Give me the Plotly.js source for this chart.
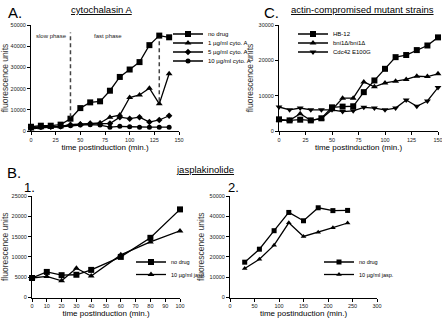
<!DOCTYPE html>
<html>
<head>
<meta charset="utf-8">
<script src="https://cdn.plot.ly/plotly-3.0.1.min.js"></script>
<style>html,body{margin:0;padding:0;background:#fff;}#chart{width:442px;height:318px;}</style>
</head>
<body>
<div id="chart"></div>
<script>
// ---- Panel A: cytochalasin A ----
const timeA = [0,10,20,30,40,50,60,70,80,90,100,110,120,130,140];
const noDrugA = [2000,2500,2500,3000,5800,10800,13500,14000,19000,25500,29000,32500,40500,45000,44200];
const cyto1 = [1000,1500,1800,2000,3000,3200,3500,3800,6500,7500,15800,17000,20200,12800,27000];
const cyto5 = [1500,2000,2000,2200,3000,3200,3500,3500,3500,6500,5800,6500,4200,5200,7200];
const cyto10 = [1500,1800,2000,2000,2500,2800,3000,2800,1800,2200,2000,1800,1800,1800,1800];
const namesA = ["no drug","1 µg/ml cyto. A","5 µg/ml cyto. A","10 µg/ml cyto. A"];
const phaseBounds = [40,130];

// ---- Panel C: actin-compromised mutant strains ----
const timeC = [0,10,20,30,40,50,60,70,80,90,100,110,120,130,140,150];
const hb12 = [3300,3000,3200,3000,3600,6700,6900,7000,11000,14300,17600,20900,21500,22900,24200,26500];
const bni1 = [3000,3000,4900,3000,3500,6000,9300,9300,13900,12500,13600,14100,14600,15500,15400,16200];
const cdc42 = [6800,6000,6500,6000,6000,6000,5500,5700,6700,6500,6000,6500,8800,7000,8500,12300];
const namesC = ["HB-12","bni1Δ/bni1Δ","Cdc42 E100G"];

// ---- Panel B1 / B2: jasplakinolide ----
const timeB1 = [0,10,20,30,40,60,80,100];
const noDrugB1 = [4800,6300,5500,5600,6800,10000,14700,21700];
const jaspB1 = [4800,5200,4100,7200,5300,10500,13700,16400];
const timeB2 = [30,60,90,120,150,180,210,240];
const noDrugB2 = [17400,23800,32900,41900,37800,44200,42800,42900];
const jaspB2 = [14300,18800,25800,36800,30100,32100,34400,36700];
const namesB = ["no drug","10 µg/ml jasp."];

// ---- tick labels ----
const xTicksAC = [0,25,50,75,100,125,150];
const xTicksB1 = [0,10,20,30,40,50,60,70,80,90,100];
const xTicksB2 = [0,50,100,150,200,250,300];
const yTicks50k = [0,10000,20000,30000,40000,50000];
const yTicks30k = [0,10000,20000,30000];
const yTicks25k = [0,5000,10000,15000,20000,25000];

const W = 442, H = 318;
const FONT = "Liberation Sans, Arial, Helvetica, sans-serif";
const px = v => v / W;
const py = v => 1 - v / H;

function tr(x, y, name, sym, size, xa, ya, legend) {
  return {
    x: x, y: y, name: name, type: 'scatter', mode: 'lines+markers',
    xaxis: xa, yaxis: ya, legend: legend, cliponaxis: false,
    line: {color: '#000', width: 1.3},
    marker: {symbol: sym, size: size, color: '#000'}
  };
}

const data = [
  tr(timeA, noDrugA, namesA[0], 'square', 6, 'x', 'y', 'legend'),
  tr(timeA, cyto1, namesA[1], 'triangle-up', 6, 'x', 'y', 'legend2'),
  tr(timeA, cyto5, namesA[2], 'diamond', 5, 'x', 'y', 'legend3'),
  tr(timeA, cyto10, namesA[3], 'circle', 5, 'x', 'y', 'legend4'),
  tr(timeC, hb12, namesC[0], 'square', 6, 'x2', 'y2', 'legend5'),
  tr(timeC, bni1, namesC[1], 'triangle-up', 6, 'x2', 'y2', 'legend6'),
  tr(timeC, cdc42, namesC[2], 'triangle-down', 6, 'x2', 'y2', 'legend7'),
  tr(timeB1, noDrugB1, namesB[0], 'square', 6, 'x3', 'y3', 'legend8'),
  tr(timeB1, jaspB1, namesB[1], 'triangle-up', 6, 'x3', 'y3', 'legend9'),
  tr(timeB2, noDrugB2, namesB[0], 'square', 5, 'x4', 'y4', 'legend10'),
  tr(timeB2, jaspB2, namesB[1], 'triangle-up', 5, 'x4', 'y4', 'legend11')
];

const tickFont = {family: FONT, size: 5.5, color: '#222'};
function xax(domain, range, ticks, anchor) {
  return {
    domain: domain, range: range, tickmode: 'array', tickvals: ticks, ticktext: ticks.map(String), anchor: anchor,
    showgrid: false, zeroline: false, showline: true, linecolor: '#000', linewidth: 1,
    ticks: 'outside', ticklen: 3, tickwidth: 1, tickcolor: '#000', tickfont: tickFont,
    ticklabeloverflow: 'allow',
    title: {text: 'time postinduction (min.)', font: {family: FONT, size: 8, color: '#000'}, standoff: 2},
    automargin: false, fixedrange: true
  };
}
function yax(domain, range, ticks, anchor) {
  return {
    domain: domain, range: range, tickmode: 'array', tickvals: ticks, ticktext: ticks.map(String), anchor: anchor,
    showgrid: false, zeroline: false, showline: true, linecolor: '#000', linewidth: 1,
    ticks: 'outside', ticklen: 3, tickwidth: 1, tickcolor: '#000', tickfont: tickFont,
    ticklabeloverflow: 'allow',
    title: {text: 'fluorescence units', font: {family: FONT, size: 8.5, color: '#333'}, standoff: 3},
    automargin: false, fixedrange: true
  };
}

function leg(x, y, size) {
  return {
    x: px(x), y: py(y), xanchor: 'left', yanchor: 'middle',
    bgcolor: 'rgba(0,0,0,0)', borderwidth: 0, itemwidth: 30,
    font: {family: FONT, size: size || 6, color: '#000'}, tracegroupgap: 0
  };
}

function ann(text, x, y, size, extra) {
  return Object.assign({
    text: text, xref: 'paper', yref: 'paper', x: px(x), y: py(y),
    xanchor: 'center', yanchor: 'middle', showarrow: false,
    font: {family: FONT, size: size, color: '#000'}
  }, extra || {});
}

const layout = {
  width: W, height: H,
  margin: {l: 0, r: 0, t: 0, b: 0},
  paper_bgcolor: '#fff', plot_bgcolor: 'rgba(0,0,0,0)',
  showlegend: true,
  xaxis: xax([px(31), px(179)], [0, 150], xTicksAC, 'y'),
  yaxis: yax([py(131), py(25)], [0, 50000], yTicks50k, 'x'),
  xaxis2: xax([px(279), px(438)], [0, 150], xTicksAC, 'y2'),
  yaxis2: yax([py(131), py(25)], [0, 30000], yTicks30k, 'x2'),
  xaxis3: xax([px(32), px(180)], [0, 100], xTicksB1, 'y3'),
  yaxis3: yax([py(297.5), py(196)], [0, 25000], yTicks25k, 'x3'),
  xaxis4: xax([px(230), px(377)], [0, 300], xTicksB2, 'y4'),
  yaxis4: yax([py(297.5), py(196)], [0, 50000], yTicks50k, 'x4'),
  legend: leg(168, 34), legend2: leg(168, 43), legend3: leg(168, 52), legend4: leg(168, 61),
  legend5: leg(293, 34), legend6: leg(293, 43), legend7: leg(293, 52),
  legend8: leg(131, 262, 5.5), legend9: leg(131, 274.5, 5.5),
  legend10: leg(319, 262, 5.5), legend11: leg(319, 274.5, 5.5),
  shapes: phaseBounds.map((b, i) => ({
    type: 'line', xref: 'x', yref: 'y', x0: b, x1: b,
    y0: i === 0 ? 6500 : 14000, y1: i === 0 ? 46500 : 44000,
    line: {color: '#444', width: 1.5, dash: '4px,3px'}
  })),
  annotations: [
    ann('A.', 14.5, 12.5, 15),
    ann('<u>cytochalasin A</u>', 101.5, 9.5, 9.5),
    ann('C.', 271, 12.5, 15),
    ann('<u>actin-compromised mutant strains</u>', 362, 10, 9.5),
    ann('B.', 14, 172.5, 15),
    ann('<u>jasplakinolide</u>', 205, 169, 9.5),
    ann('1.', 29, 187, 13),
    ann('2.', 233, 187, 13),
    ann('slow phase', 51, 35.5, 6, {font: {family: FONT, size: 6, color: '#222'}}),
    ann('fast phase', 108, 35.5, 6, {font: {family: FONT, size: 6, color: '#222'}})
  ]
};

Plotly.newPlot('chart', data, layout, {displayModeBar: false, staticPlot: true});
</script>
</body>
</html>
